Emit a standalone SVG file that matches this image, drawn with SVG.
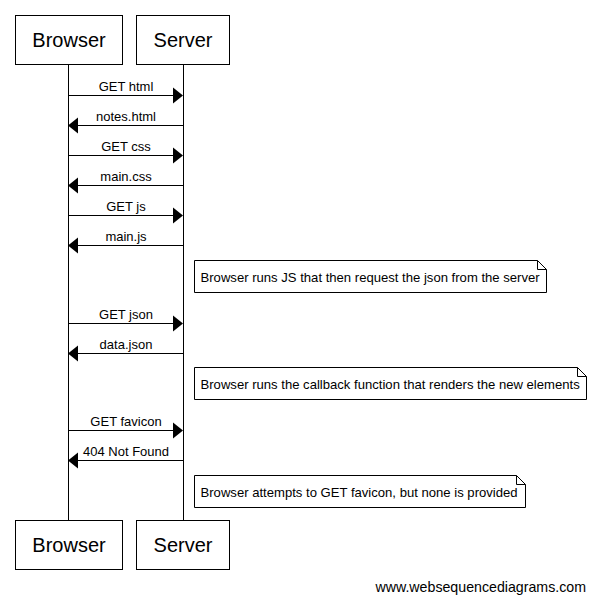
<svg xmlns="http://www.w3.org/2000/svg" width="596" height="603" viewBox="0 0 596 603">
<style>
.box{fill:#fff;stroke:#000;stroke-width:1}
.life{stroke:#000;stroke-width:1}
.msg{stroke:#000;stroke-width:1}
.head{fill:#000}
.actor{font-family:"Liberation Sans",Arial,sans-serif;font-size:20px;text-anchor:middle;fill:#000}
.lbl{font-family:"Liberation Sans",Arial,sans-serif;font-size:13px;text-anchor:middle;fill:#000}
.note{fill:#fff;stroke:#000;stroke-width:1}
.ntxt{font-family:"Liberation Sans",Arial,sans-serif;font-size:13.1px;fill:#000}
.foot{font-family:"Liberation Sans",Arial,sans-serif;font-size:14.2px;text-anchor:end;fill:#000}
</style>
<rect width="596" height="603" fill="#fff"/>
<g id="lifelines">
<line class="life" x1="68.5" y1="64" x2="68.5" y2="520"/>
<line class="life" x1="183.5" y1="64" x2="183.5" y2="520"/>
</g>
<g id="browser-top"><rect class="box" x="15.5" y="15.5" width="107" height="49"/><text class="actor" x="69" y="47">Browser</text></g>
<g id="server-top"><rect class="box" x="136.5" y="15.5" width="93" height="49"/><text class="actor" x="183" y="47">Server</text></g>
<g id="browser-bottom"><rect class="box" x="15.5" y="520.5" width="107" height="49"/><text class="actor" x="69" y="552">Browser</text></g>
<g id="server-bottom"><rect class="box" x="136.5" y="520.5" width="93" height="49"/><text class="actor" x="183" y="552">Server</text></g>
<g id="connectors">
<line class="msg" x1="68" y1="95.5" x2="175" y2="95.5"/><polygon class="head" points="183,95.5 173,87.5 173,103.5"/>
<text class="lbl" x="126" y="91">GET html</text>
<line class="msg" x1="183" y1="125.5" x2="76" y2="125.5"/><polygon class="head" points="68,125.5 78,117.5 78,133.5"/>
<text class="lbl" x="126" y="121">notes.html</text>
<line class="msg" x1="68" y1="155.5" x2="175" y2="155.5"/><polygon class="head" points="183,155.5 173,147.5 173,163.5"/>
<text class="lbl" x="126" y="151">GET css</text>
<line class="msg" x1="183" y1="185.5" x2="76" y2="185.5"/><polygon class="head" points="68,185.5 78,177.5 78,193.5"/>
<text class="lbl" x="126" y="181">main.css</text>
<line class="msg" x1="68" y1="215.5" x2="175" y2="215.5"/><polygon class="head" points="183,215.5 173,207.5 173,223.5"/>
<text class="lbl" x="126" y="211">GET js</text>
<line class="msg" x1="183" y1="245.5" x2="76" y2="245.5"/><polygon class="head" points="68,245.5 78,237.5 78,253.5"/>
<text class="lbl" x="126" y="241">main.js</text>
<line class="msg" x1="68" y1="323.5" x2="175" y2="323.5"/><polygon class="head" points="183,323.5 173,315.5 173,331.5"/>
<text class="lbl" x="126" y="319">GET json</text>
<line class="msg" x1="183" y1="353.5" x2="76" y2="353.5"/><polygon class="head" points="68,353.5 78,345.5 78,361.5"/>
<text class="lbl" x="126" y="349">data.json</text>
<line class="msg" x1="68" y1="430.5" x2="175" y2="430.5"/><polygon class="head" points="183,430.5 173,422.5 173,438.5"/>
<text class="lbl" x="126" y="426">GET favicon</text>
<line class="msg" x1="183" y1="460.5" x2="76" y2="460.5"/><polygon class="head" points="68,460.5 78,452.5 78,468.5"/>
<text class="lbl" x="126" y="456">404 Not Found</text>
</g>
<g id="note1"><path class="note" d="M194.5,260.5 H537.5 L546.5,269.5 V292.5 H194.5 Z M537.5,260.5 V269.5 H546.5"/><text class="ntxt" x="200.5" y="281.5">Browser runs JS that then request the json from the server</text></g>
<g id="note2"><path class="note" d="M194.5,367.5 H577.5 L586.5,376.5 V399.5 H194.5 Z M577.5,367.5 V376.5 H586.5"/><text class="ntxt" x="200.5" y="388.5">Browser runs the callback function that renders the new elements</text></g>
<g id="note3"><path class="note" d="M194.5,475.5 H516.5 L525.5,484.5 V507.5 H194.5 Z M516.5,475.5 V484.5 H525.5"/><text class="ntxt" x="200.5" y="496.5">Browser attempts to GET favicon, but none is provided</text></g>
<text class="foot" x="586" y="592">www.websequencediagrams.com</text>
</svg>
